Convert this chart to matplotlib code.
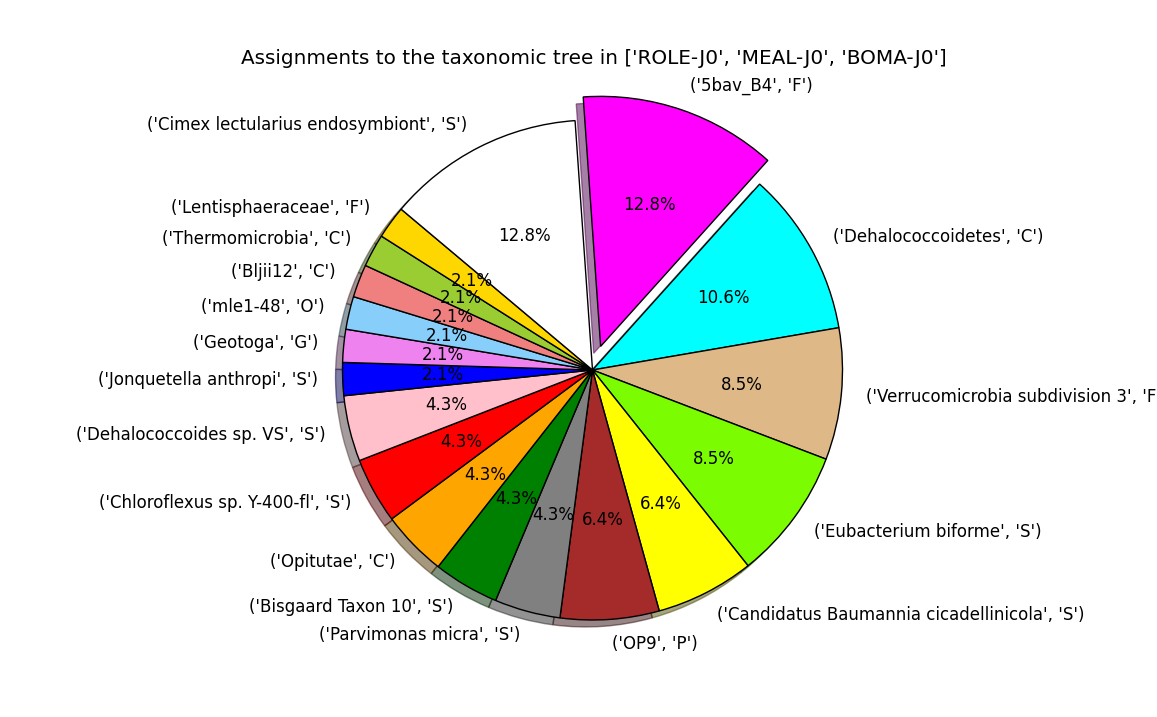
import matplotlib
matplotlib.use("Agg")
import matplotlib.pyplot as plt

names = ['5bav_B4', 'Dehalococcoidetes', 'Verrucomicrobia subdivision 3',
         'Eubacterium biforme', 'Candidatus Baumannia cicadellinicola', 'OP9',
         'Parvimonas micra', 'Bisgaard Taxon 10', 'Opitutae',
         'Chloroflexus sp. Y-400-fl', 'Dehalococcoides sp. VS',
         'Jonquetella anthropi', 'Geotoga', 'mle1-48', 'Bljii12',
         'Thermomicrobia', 'Lentisphaeraceae', 'Cimex lectularius endosymbiont']
ranks = ['F', 'C', 'F', 'S', 'S', 'P', 'S', 'S', 'C', 'S', 'S', 'S', 'G', 'O',
         'C', 'C', 'F', 'S']
counts = [6, 5, 4, 4, 3, 3, 2, 2, 2, 2, 2, 1, 1, 1, 1, 1, 1, 6]
colors = ['magenta', 'cyan', 'burlywood', 'lawngreen', 'yellow', 'brown',
          'gray', 'green', 'orange', 'red', 'pink', 'blue', 'violet',
          'lightskyblue', 'lightcoral', 'yellowgreen', 'gold', 'white']
explode = [0.1] + [0.0] * (len(counts) - 1)
title = "Assignments to the taxonomic tree in ['ROLE-J0', 'MEAL-J0', 'BOMA-J0']"

labels = [str((n, r)) for n, r in zip(names, ranks)]

plt.rcParams['font.size'] = 12
W, H = 1157, 717
fig = plt.figure(figsize=(W / 100, H / 100), dpi=100)
cx, cy, R = 592.5, 370.0, 250.0
side = R * 2.5
ax = fig.add_axes([(cx - side / 2) / W, (H - cy - side / 2) / H, side / W, side / H])
ax.pie(counts, labels=labels, colors=colors, explode=explode,
       autopct='%1.1f%%', shadow=True, startangle=94, counterclock=False,
       wedgeprops={'edgecolor': 'black', 'linewidth': 1})
ax.set_xlim(-1.25, 1.25)
ax.set_ylim(-1.25, 1.25)
ax.set_aspect('equal')
fig.text(593.5 / W, 1 - 58 / H, title, ha='center', va='center', fontsize=14.4)
fig.savefig('out.png', dpi=100)
